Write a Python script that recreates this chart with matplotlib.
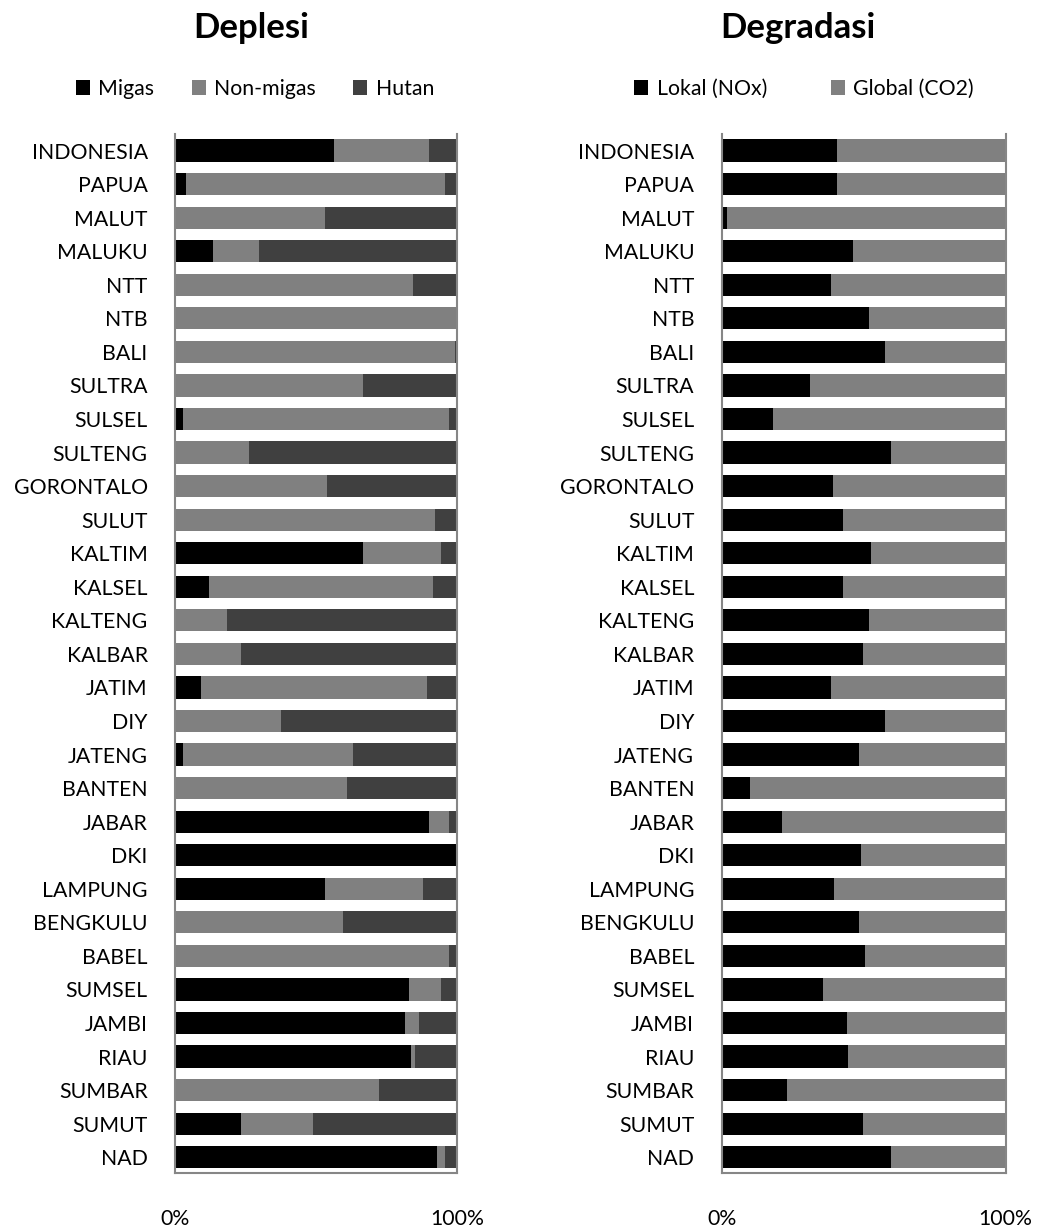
import matplotlib
matplotlib.use("Agg")
import matplotlib.pyplot as plt
import numpy as np

plt.rcParams['font.family'] = ['Lato', 'DejaVu Sans']

regions = ["INDONESIA", "PAPUA", "MALUT", "MALUKU", "NTT", "NTB", "BALI", "SULTRA",
           "SULSEL", "SULTENG", "GORONTALO", "SULUT", "KALTIM", "KALSEL", "KALTENG",
           "KALBAR", "JATIM", "DIY", "JATENG", "BANTEN", "JABAR", "DKI", "LAMPUNG",
           "BENGKULU", "BABEL", "SUMSEL", "JAMBI", "RIAU", "SUMBAR", "SUMUT", "NAD"]

# Deplesi (%)
migas = [56.4, 3.9, 0, 13.2, 0, 0, 0, 0, 2.6, 0, 0, 0, 66.6, 11.8, 0,
         0, 9.0, 0, 2.6, 0, 89.9, 100, 53.0, 0, 0, 82.9, 81.5, 83.6, 0, 23.2, 92.8]
nonmigas = [33.6, 91.8, 53.1, 16.5, 84.5, 99.7, 99.3, 66.5, 94.6, 26.1, 53.7, 92.3, 27.7, 79.8, 18.2,
            23.2, 80.5, 37.4, 60.4, 60.9, 7.3, 0, 34.8, 59.5, 97.2, 11.4, 4.9, 1.4, 72.4, 25.7, 2.9]
hutan = [10.0, 4.3, 46.9, 70.3, 15.5, 0.3, 0.7, 33.5, 2.8, 73.9, 46.3, 7.7, 5.7, 8.4, 81.8,
         76.8, 10.5, 62.6, 37.0, 39.1, 2.8, 0, 12.2, 40.5, 2.8, 5.7, 13.6, 15.0, 27.6, 51.1, 4.3]

# Degradasi (%)
lokal = [40.5, 40.5, 1.6, 46.2, 38.4, 51.8, 57.5, 31.2, 17.9, 59.5, 39.0, 42.5, 52.5, 42.5, 51.8,
         49.7, 38.4, 57.5, 48.2, 10.0, 21.3, 49.0, 39.6, 48.2, 50.3, 35.6, 44.1, 44.6, 22.9, 49.7, 59.5]
glob = [59.5, 59.5, 98.4, 53.8, 61.6, 48.2, 42.5, 68.8, 82.1, 40.5, 61.0, 57.5, 47.5, 57.5, 48.2,
        50.3, 61.6, 42.5, 51.8, 90.0, 78.7, 51.0, 60.4, 51.8, 49.7, 64.4, 55.9, 55.4, 77.1, 50.3, 40.5]

fig = plt.figure(figsize=(10.39, 12.28), dpi=100)
ax1 = fig.add_axes([0.1689, 0.0448, 0.2709, 0.846])
ax2 = fig.add_axes([0.6949, 0.0448, 0.2729, 0.846])

y = np.arange(len(regions))
h = 0.66
fs = 15.3


def style(ax):
    ax.set_xlim(0, 100)
    ax.set_ylim(30.47, -0.49)
    ax.set_yticks(y)
    ax.set_yticklabels(regions, fontsize=fs)
    ax.set_xticks([0, 100])
    ax.set_xticklabels(["0%", "100%"], fontsize=fs)
    ax.tick_params(axis='y', length=0, pad=20)
    ax.tick_params(axis='x', length=0, pad=26)
    ax.spines['top'].set_visible(False)
    for s in ['left', 'right', 'bottom']:
        ax.spines[s].set_color('#868686')
        ax.spines[s].set_linewidth(1.5)


# left panel
m = np.array(migas)
n = np.array(nonmigas)
ax1.barh(y, migas, height=h, color='#000000', label='Migas')
ax1.barh(y, nonmigas, height=h, left=m, color='#808080', label='Non-migas')
ax1.barh(y, hutan, height=h, left=m + n, color='#404040', label='Hutan')
style(ax1)

# right panel
ax2.barh(y, lokal, height=h, color='#000000', label='Lokal (NOx)')
ax2.barh(y, glob, height=h, left=np.array(lokal), color='#808080', label='Global (CO2)')
style(ax2)

fig.text(0.2416, 0.977, "Deplesi", fontsize=25, fontweight='bold', ha='center', va='center')
fig.text(0.7676, 0.977, "Degradasi", fontsize=25, fontweight='bold', ha='center', va='center')

ax1.legend(loc='center', bbox_to_anchor=(0.2454, 0.9275), bbox_transform=fig.transFigure,
           ncol=3, frameon=False, fontsize=fs, handlelength=0.66, handleheight=0.66,
           handletextpad=0.4, columnspacing=1.75)
ax2.legend(loc='center', bbox_to_anchor=(0.7738, 0.9275), bbox_transform=fig.transFigure,
           ncol=2, frameon=False, fontsize=fs, handlelength=0.66, handleheight=0.66,
           handletextpad=0.4, columnspacing=3.0)

fig.savefig("out.png", dpi=100)
